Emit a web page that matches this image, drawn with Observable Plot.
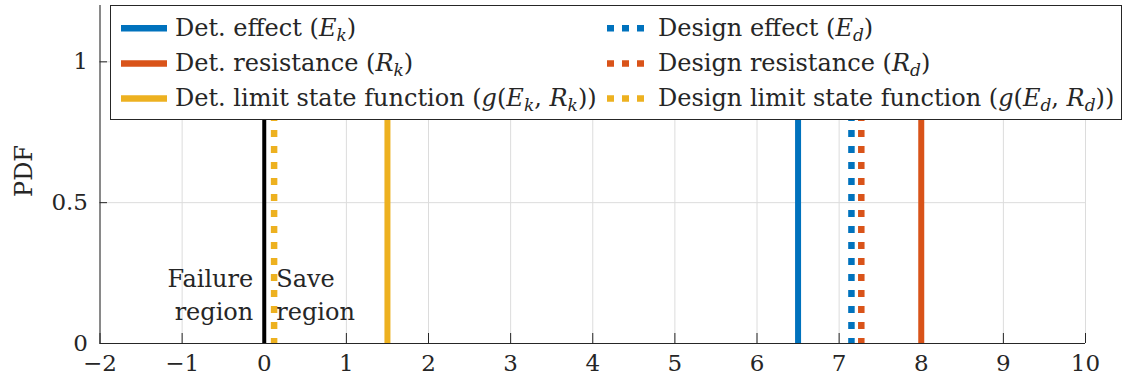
<!DOCTYPE html>
<html><head><meta charset="utf-8">
<script src="https://cdn.jsdelivr.net/npm/d3@7"></script>
<script src="https://cdn.jsdelivr.net/npm/@observablehq/plot@0.6"></script>
<style>body{margin:0;background:#fff} svg{display:block}</style>
</head><body><div id="chart"></div>
<script>
// ---- data ----
const quantities = ["effect", "resistance", "limit state"];
const detValues = [6.5, 8.0, 1.5];
const designValues = [7.15, 7.27, 0.12];
const boundaryValue = [0];
const detLabels = ["Det. effect ($E_k$)", "Det. resistance ($R_k$)", "Det. limit state function ($g(E_k, R_k)$)"];
const designLabels = ["Design effect ($E_d$)", "Design resistance ($R_d$)", "Design limit state function ($g(E_d, R_d)$)"];
const xTicks = [-2, -1, 0, 1, 2, 3, 4, 5, 6, 7, 8, 9, 10];
const yTicks = [0, 0.5, 1];
const regionTexts = ["Failure\nregion", "Save\nregion"];
const regionY = [0.18, 0.18];
const yLabel = "PDF";

// ---- build ----
const FONT = "'DejaVu Serif', serif";
const detRows = quantities.map((q, i) => ({quantity: q, value: detValues[i]}));
const designRows = quantities.map((q, i) => ({quantity: q, value: designValues[i]}));
const colors = ["#0072BD", "#D95319", "#EDB120"];
const fmt = d => d < 0 ? "\u2212" + (-d) : String(d);

const plot = Plot.plot({
  width: 1127, height: 381,
  marginLeft: 99.5, marginRight: 42, marginTop: 5, marginBottom: 38,
  style: {fontFamily: FONT, fontSize: "23px", background: "#fff", color: "#262626"},
  x: {domain: [-2, 10]},
  y: {domain: [0, 1.2]},
  color: {domain: quantities, range: colors},
  marks: [
    Plot.gridX(xTicks, {stroke: "#dcdcdc", strokeOpacity: 1}),
    Plot.gridY(yTicks, {stroke: "#dcdcdc", strokeOpacity: 1}),
    Plot.tickX(xTicks, {x: d => d, stroke: "#262626", insetTop: 328}),
    Plot.tickY(yTicks, {y: d => d, stroke: "#262626", insetRight: 978}),
    Plot.ruleX(detRows, {x: "value", stroke: "quantity", strokeWidth: 6}),
    Plot.ruleX(designRows, {x: "value", stroke: "quantity", strokeWidth: 6.5, strokeDasharray: "7,9", strokeDashoffset: 3}),
    Plot.ruleX(boundaryValue, {x: d => d, stroke: "#000", strokeWidth: 4}),
    Plot.ruleY([0], {stroke: "#262626"}),
    Plot.ruleX([-2], {stroke: "#262626"}),
    Plot.axisX({ticks: xTicks, tickSize: 0, tickPadding: 11, tickFormat: fmt, fontSize: 23, label: null}),
    Plot.axisY({ticks: yTicks, tickSize: 0, tickPadding: 12, tickFormat: fmt, fontSize: 23, label: null}),
    Plot.text([regionTexts[0]], {x: 0, y: regionY[0], text: d => d, textAnchor: "end", dx: -11, lineHeight: 1.4, fontSize: 24, fill: "#262626"}),
    Plot.text([regionTexts[1]], {x: 0, y: regionY[1], text: d => d, textAnchor: "start", dx: 12, lineHeight: 1.4, fontSize: 24, fill: "#262626"})
  ]
});

const svg = d3.select(plot);

// ---- y label ----
svg.append("text").attr("transform", "translate(32,171) rotate(-90)")
  .attr("text-anchor", "middle").attr("font-family", FONT).attr("font-size", 24)
  .attr("fill", "#262626").text(yLabel);

// ---- legend ----
const colorScale = plot.scale("color");
const lg = svg.append("g").attr("font-family", FONT).attr("font-size", 24)
  .attr("fill", "#262626").attr("text-anchor", "start");
lg.append("rect").attr("x", 110.5).attr("y", 5.5).attr("width", 1011).attr("height", 114)
  .attr("fill", "#fff").attr("stroke", "#262626");

function rich(textSel, label) {
  const parts = label.split("$");
  let shifted = false;
  const add = (s, italic, sub) => {
    const t = textSel.append("tspan").text(s);
    if (italic) t.attr("font-style", "italic");
    if (sub) { t.attr("font-size", 17); if (!shifted) { t.attr("dy", 5); shifted = true; } }
    else if (shifted) { t.attr("dy", -5); shifted = false; }
  };
  parts.forEach((p, i) => {
    if (i % 2 === 0) { if (p) add(p, false, false); return; }
    for (let j = 0; j < p.length; j++) {
      const c = p[j];
      if (c === "_") { add(p[++j], true, true); }
      else if (/[A-Za-z]/.test(c)) add(c, true, false);
      else add(c, false, false);
    }
  });
}

const cols = [
  {labels: detLabels, x0: 121, x1: 167, tx: 175, dash: null},
  {labels: designLabels, x0: 607, x1: 645, tx: 658, dash: "7,8"}
];
cols.forEach(col => {
  col.labels.forEach((lab, i) => {
    const base = 36 + i * 35.2;
    const ly = base - 7.8;
    const ln = lg.append("line").attr("x1", col.x0).attr("x2", col.x1).attr("y1", ly).attr("y2", ly)
      .attr("stroke", colorScale.apply(quantities[i])).attr("stroke-width", 6.5);
    if (col.dash) ln.attr("stroke-dasharray", col.dash);
    const t = lg.append("text").attr("x", col.tx).attr("y", base).style("white-space", "pre");
    rich(t, lab);
  });
});

document.getElementById("chart").appendChild(plot);
</script>
</body></html>
